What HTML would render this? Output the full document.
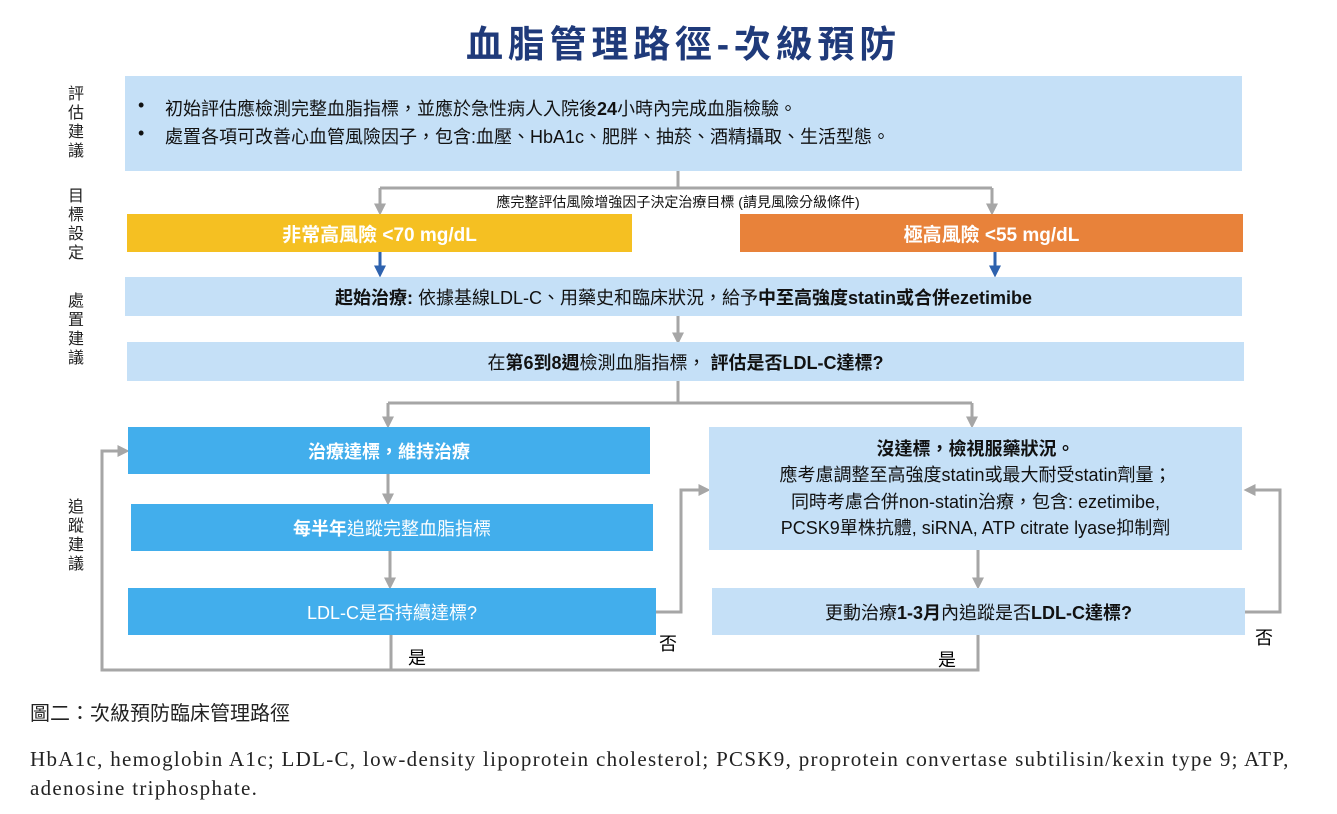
<!DOCTYPE html>
<html><head><meta charset="utf-8"><style>
body{margin:0;width:1337px;height:814px;background:#fff;position:relative;overflow:hidden;font-family:"Liberation Sans","Noto Sans CJK TC",sans-serif;}
.a{position:absolute;}
.box{position:absolute;display:flex;align-items:center;justify-content:center;text-align:center;font-size:18px;color:#111;}
.lb{position:absolute;left:66px;width:20px;font-size:16px;line-height:19px;color:#222;text-align:center;}
b{font-weight:bold;}
</style></head><body>
<div class="a" style="left:0;width:1337px;top:14px;text-align:center;font-size:37px;font-weight:bold;color:#1f3a7a;letter-spacing:4.8px;padding-left:30px;box-sizing:border-box;">血脂管理路徑-次級預防</div>

<div class="lb" style="top:85px">評估建議</div>
<div class="lb" style="top:187px">目標設定</div>
<div class="lb" style="top:292px">處置建議</div>
<div class="lb" style="top:498px">追蹤建議</div>

<svg class="a" style="left:0;top:0" width="1337" height="814">
<defs>
<marker id="g" markerWidth="4" markerHeight="4" refX="2.5" refY="2" orient="auto" markerUnits="strokeWidth"><path d="M0,0 L4,2 L0,4 z" fill="#a6a6a6"/></marker>
<marker id="bl" markerWidth="4" markerHeight="4" refX="2.5" refY="2" orient="auto" markerUnits="strokeWidth"><path d="M0,0 L4,2 L0,4 z" fill="#2e62ae"/></marker>
</defs>
<g stroke="#a6a6a6" stroke-width="3" fill="none">
<path d="M678,171 V188 M380,188 H992"/>
<path d="M380,188 V211" marker-end="url(#g)"/>
<path d="M992,188 V211" marker-end="url(#g)"/>
<path d="M678,316 V340" marker-end="url(#g)"/>
<path d="M678,381 V403 M388,403 H972"/>
<path d="M388,403 V424" marker-end="url(#g)"/>
<path d="M972,403 V424" marker-end="url(#g)"/>
<path d="M388,474 V501" marker-end="url(#g)"/>
<path d="M390,551 V585" marker-end="url(#g)"/>
<path d="M978,550 V585" marker-end="url(#g)"/>
<path d="M656,612 H681 V490 H706" marker-end="url(#g)"/>
<path d="M1245,612 H1280 V490 H1248" marker-end="url(#g)"/>
<path d="M391,635 V670 M978,635 V670 H102 V451 H125" marker-end="url(#g)"/>
</g>
<g stroke="#2e62ae" stroke-width="3">
<path d="M380,252 V273" marker-end="url(#bl)"/>
<path d="M995,252 V273" marker-end="url(#bl)"/>
</g>
</svg>

<div class="a" style="left:125px;top:76px;width:1117px;height:95px;background:#c5e0f7;font-size:18px;color:#111;">
<div class="a" style="left:13px;top:19px;">•</div><div class="a" style="left:40px;top:19px;">初始評估應檢測完整血脂指標，並應於急性病人入院後<b>24</b>小時內完成血脂檢驗。</div>
<div class="a" style="left:13px;top:47px;">•</div><div class="a" style="left:40px;top:47px;">處置各項可改善心血管風險因子，包含:血壓、HbA1c、肥胖、抽菸、酒精攝取、生活型態。</div>
</div>
<div class="a" style="left:378px;width:600px;top:192px;text-align:center;font-size:14px;color:#111;">應完整評估風險增強因子決定治療目標 (請見風險分級條件)</div>

<div class="box" style="left:127px;top:214px;width:505px;height:38px;background:#f5c022;color:#fff;font-weight:bold;font-size:19px;">非常高風險 &lt;70 mg/dL</div>
<div class="box" style="left:740px;top:214px;width:503px;height:38px;background:#e8823a;color:#fff;font-weight:bold;font-size:19px;">極高風險 &lt;55 mg/dL</div>

<div class="box" style="left:125px;top:277px;width:1117px;height:39px;background:#c5e0f7;"><span><b>起始治療:</b> 依據基線LDL-C、用藥史和臨床狀況，給予<b>中至高強度statin或合併ezetimibe</b></span></div>
<div class="box" style="left:127px;top:342px;width:1117px;height:39px;background:#c5e0f7;"><span>在<b>第6到8週</b>檢測血脂指標， <b>評估是否LDL-C達標?</b></span></div>

<div class="box" style="left:128px;top:427px;width:522px;height:47px;background:#42aeec;color:#fff;font-weight:bold;">治療達標，維持治療</div>
<div class="box" style="left:131px;top:504px;width:522px;height:47px;background:#42aeec;color:#fff;"><span><b>每半年</b>追蹤完整血脂指標</span></div>
<div class="box" style="left:128px;top:588px;width:528px;height:47px;background:#42aeec;color:#fff;">LDL-C是否持續達標?</div>

<div class="box" style="left:709px;top:427px;width:533px;height:123px;background:#c5e0f7;line-height:26.5px;"><span><b>沒達標，檢視服藥狀況。</b><br>應考慮調整至高強度statin或最大耐受statin劑量；<br>同時考慮合併non-statin治療，包含: ezetimibe,<br>PCSK9單株抗體, siRNA, ATP citrate lyase抑制劑</span></div>
<div class="box" style="left:712px;top:588px;width:533px;height:47px;background:#c5e0f7;"><span>更動治療<b>1-3月</b>內追蹤是否<b>LDL-C達標?</b></span></div>

<div class="a" style="left:408px;top:644px;font-size:18px;">是</div>
<div class="a" style="left:938px;top:646px;font-size:18px;">是</div>
<div class="a" style="left:659px;top:630px;font-size:18px;">否</div>
<div class="a" style="left:1255px;top:624px;font-size:18px;">否</div>

<div class="a" style="left:30px;top:697px;font-size:20px;color:#222;">圖二：次級預防臨床管理路徑</div>
<div class="a" style="left:30px;top:745px;width:1290px;font-family:'Liberation Serif','Noto Serif CJK SC',serif;font-size:21px;letter-spacing:1.3px;line-height:29px;color:#222;">HbA1c, hemoglobin A1c; LDL-C, low-density lipoprotein cholesterol; PCSK9, proprotein convertase subtilisin/kexin type 9; ATP, adenosine triphosphate.</div>
</body></html>
